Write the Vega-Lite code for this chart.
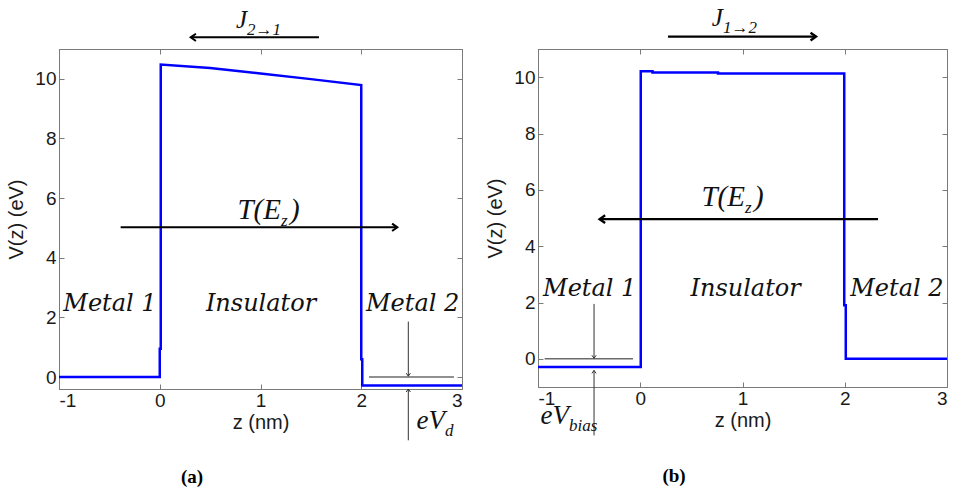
{
  "$schema": "https://vega.github.io/schema/vega-lite/v6.json",
  "background": "white",
  "padding": {"left": 6, "top": 5, "right": 0, "bottom": 0},
  "spacing": 17,
  "config": {
    "view": {"stroke": "#7a7a7a", "strokeWidth": 1},
    "axis": {
      "grid": false,
      "domainColor": "#7a7a7a",
      "tickColor": "#7a7a7a",
      "tickSize": -5,
      "labelFont": "Liberation Sans",
      "labelFontSize": 19,
      "labelColor": "#1a1a1a",
      "labelExpr": "'' + datum.value",
      "titleFont": "Liberation Sans",
      "titleFontSize": 20,
      "titleFontWeight": "normal",
      "titleColor": "#1a1a1a"
    }
  },
  "datasets": {
    "all": [
      {"panel": "a", "type": "curve", "i": 1, "z": -1, "V": 0},
      {"panel": "a", "type": "curve", "i": 2, "z": 0, "V": 0},
      {"panel": "a", "type": "curve", "i": 3, "z": 0, "V": 0.95},
      {"panel": "a", "type": "curve", "i": 4, "z": 0.01, "V": 0.95},
      {"panel": "a", "type": "curve", "i": 5, "z": 0.01, "V": 10.48},
      {"panel": "a", "type": "curve", "i": 6, "z": 0.5, "V": 10.36},
      {"panel": "a", "type": "curve", "i": 7, "z": 1, "V": 10.18},
      {"panel": "a", "type": "curve", "i": 8, "z": 1.5, "V": 9.99},
      {"panel": "a", "type": "curve", "i": 9, "z": 2, "V": 9.79},
      {"panel": "a", "type": "curve", "i": 10, "z": 2, "V": 0.6},
      {"panel": "a", "type": "curve", "i": 11, "z": 2.01, "V": 0.6},
      {"panel": "a", "type": "curve", "i": 12, "z": 2.01, "V": -0.28},
      {"panel": "a", "type": "curve", "i": 13, "z": 3, "V": -0.28},
      {"panel": "b", "type": "curve", "i": 1, "z": -1, "V": -0.29},
      {"panel": "b", "type": "curve", "i": 2, "z": 0.005, "V": -0.29},
      {"panel": "b", "type": "curve", "i": 3, "z": 0.005, "V": 10.21},
      {"panel": "b", "type": "curve", "i": 4, "z": 0.12, "V": 10.21},
      {"panel": "b", "type": "curve", "i": 5, "z": 0.12, "V": 10.17},
      {"panel": "b", "type": "curve", "i": 6, "z": 0.76, "V": 10.17},
      {"panel": "b", "type": "curve", "i": 7, "z": 0.76, "V": 10.13},
      {"panel": "b", "type": "curve", "i": 8, "z": 1.995, "V": 10.13},
      {"panel": "b", "type": "curve", "i": 9, "z": 1.995, "V": 1.9},
      {"panel": "b", "type": "curve", "i": 10, "z": 2.01, "V": 1.9},
      {"panel": "b", "type": "curve", "i": 11, "z": 2.01, "V": 0},
      {"panel": "b", "type": "curve", "i": 12, "z": 3, "V": 0},

      {"panel": "a", "type": "arrow", "kind": "J", "dir": "left", "z": 0.307, "V": 11.39, "z2": 1.58, "V2": 11.39},
      {"panel": "a", "type": "arrow", "kind": "T", "dir": "right", "z": 2.358, "V": 5.02, "z2": -0.388, "V2": 5.02},
      {"panel": "a", "type": "arrow", "kind": "eV", "dir": "down", "z": 2.467, "V": 0.03, "z2": 2.467, "V2": 1.86},
      {"panel": "a", "type": "arrow", "kind": "eV", "dir": "up", "z": 2.467, "V": -0.4, "z2": 2.467, "V2": -2.12},
      {"panel": "b", "type": "arrow", "kind": "J", "dir": "right", "z": 1.719, "V": 11.44, "z2": 0.271, "V2": 11.44},
      {"panel": "b", "type": "arrow", "kind": "T", "dir": "left", "z": -0.397, "V": 4.96, "z2": 2.325, "V2": 4.96},
      {"panel": "b", "type": "arrow", "kind": "eV", "dir": "down", "z": -0.452, "V": 0.02, "z2": -0.452, "V2": 1.95},
      {"panel": "b", "type": "arrow", "kind": "eV", "dir": "up", "z": -0.452, "V": -0.41, "z2": -0.452, "V2": -2.72},

      {"panel": "a", "type": "ref", "z": 2.077, "V": 0, "z2": 2.92, "V2": 0},
      {"panel": "b", "type": "ref", "z": -0.935, "V": 0, "z2": -0.071, "V2": 0},

      {"panel": "a", "type": "region", "text": "Metal 1", "z": -0.494, "V": 2.23},
      {"panel": "a", "type": "region", "text": "Insulator", "z": 1.005, "V": 2.23},
      {"panel": "a", "type": "region", "text": "Metal 2", "z": 2.51, "V": 2.23},
      {"panel": "b", "type": "region", "text": "Metal 1", "z": -0.494, "V": 2.24},
      {"panel": "b", "type": "region", "text": "Insulator", "z": 1.03, "V": 2.24},
      {"panel": "b", "type": "region", "text": "Metal 2", "z": 2.51, "V": 2.24},

      {"panel": "a", "type": "math", "kind": "J", "big": "J", "sub": "2→1", "z": 0.866, "V": 11.7},
      {"panel": "a", "type": "math", "kind": "T", "big": "T(E", "sub": "z", "tail": ")", "z": 1.203, "V": 5.3},
      {"panel": "a", "type": "math", "kind": "eV", "big": "eV", "sub": "d", "z": 2.831, "V": -1.73},
      {"panel": "b", "type": "math", "kind": "J", "big": "J", "sub": "1→2", "z": 0.809, "V": 11.81},
      {"panel": "b", "type": "math", "kind": "T", "big": "T(E", "sub": "z", "tail": ")", "z": 1.024, "V": 5.44},
      {"panel": "b", "type": "math", "kind": "eV", "big": "eV", "sub": "bias", "z": -0.697, "V": -2.3},

      {"panel": "a", "type": "tag", "text": "(a)", "z": 0.32, "V": -3.56},
      {"panel": "b", "type": "tag", "text": "(b)", "z": 0.33, "V": -4.36}
    ]
  },
  "hconcat": [
    {
      "width": 403,
      "height": 340,
      "data": {"name": "all"},
      "transform": [{"filter": "datum.panel === 'a'"}],
      "encoding": {
        "x": {"field": "z", "type": "quantitative", "scale": {"domain": [-1, 3], "nice": false, "zero": false}, "axis": null},
        "y": {"field": "V", "type": "quantitative", "scale": {"domain": [-0.4, 11], "nice": false, "zero": false}, "axis": null}
      },
      "layer": [
        {
          "transform": [{"filter": "datum.type === 'ref'"}],
          "mark": {"type": "rule", "color": "#6b6b6b", "strokeWidth": 1.5},
          "encoding": {
            "x": {"field": "z", "type": "quantitative", "scale": {"domain": [-1, 3], "nice": false, "zero": false}, "axis": {"orient": "top", "labels": false, "title": null, "values": [-1, 0, 1, 2, 3]}},
            "y": {"field": "V", "type": "quantitative", "scale": {"domain": [-0.4, 11], "nice": false, "zero": false}, "axis": {"orient": "right", "labels": false, "title": null, "values": [0, 2, 4, 6, 8, 10]}},
            "x2": {"field": "z2"},
            "y2": {"field": "V2"}
          }
        },
        {
          "transform": [{"filter": "datum.type === 'curve'"}],
          "mark": {"type": "line", "color": "#0000ff", "strokeWidth": 2.5},
          "encoding": {
            "order": {"field": "i", "type": "quantitative"},
            "x": {"field": "z", "type": "quantitative", "scale": {"domain": [-1, 3], "nice": false, "zero": false}, "axis": {"orient": "bottom", "title": "z (nm)", "values": [-1, 0, 1, 2, 3], "labelPadding": 7, "titlePadding": 2}},
            "y": {"field": "V", "type": "quantitative", "scale": {"domain": [-0.4, 11], "nice": false, "zero": false}, "axis": {"orient": "left", "title": "V(z) (eV)", "values": [0, 2, 4, 6, 8, 10], "labelPadding": 8, "titlePadding": 8}}
          }
        },
        {
          "transform": [{"filter": "datum.type === 'arrow' && datum.kind !== 'eV'"}],
          "mark": {"type": "rule", "color": "#000000", "strokeWidth": 2},
          "encoding": {"x2": {"field": "z2"}, "y2": {"field": "V2"}}
        },
        {
          "transform": [{"filter": "datum.type === 'arrow' && datum.kind === 'eV'"}],
          "mark": {"type": "rule", "color": "#333333", "strokeWidth": 1},
          "encoding": {"x2": {"field": "z2"}, "y2": {"field": "V2"}}
        },
        {
          "transform": [{"filter": "datum.type === 'arrow' && datum.kind !== 'eV'"}],
          "mark": {"type": "point", "filled": false, "stroke": "#000000", "strokeWidth": 2, "opacity": 1, "size": 110},
          "encoding": {
            "shape": {"field": "dir", "type": "nominal", "legend": null,
              "scale": {"domain": ["left", "right", "up", "down"], "range": ["M1,-0.7L0,0L1,0.7", "M-1,-0.7L0,0L-1,0.7", "M-0.7,1L0,0L0.7,1", "M-0.7,-1L0,0L0.7,-1"]}}
          }
        },
        {
          "transform": [{"filter": "datum.type === 'arrow' && datum.kind === 'eV'"}],
          "mark": {"type": "point", "filled": false, "stroke": "#333333", "strokeWidth": 1, "opacity": 1, "size": 36},
          "encoding": {
            "shape": {"field": "dir", "type": "nominal", "legend": null,
              "scale": {"domain": ["left", "right", "up", "down"], "range": ["M1,-0.7L0,0L1,0.7", "M-1,-0.7L0,0L-1,0.7", "M-0.7,1L0,0L0.7,1", "M-0.7,-1L0,0L0.7,-1"]}}
          }
        },
        {
          "transform": [{"filter": "datum.type === 'region'"}],
          "mark": {"type": "text", "font": "DejaVu Serif", "fontStyle": "italic", "fontSize": 24, "align": "center", "baseline": "alphabetic", "color": "#111111"},
          "encoding": {"text": {"field": "text"}}
        },
        {
          "transform": [{"filter": "datum.type === 'math' && datum.kind === 'J'"}],
          "mark": {"type": "text", "font": "Liberation Serif", "fontStyle": "italic", "fontSize": 25, "align": "right", "baseline": "alphabetic", "color": "#111111"},
          "encoding": {"text": {"field": "big"}}
        },
        {
          "transform": [{"filter": "datum.type === 'math' && datum.kind === 'T'"}],
          "mark": {"type": "text", "font": "Liberation Serif", "fontStyle": "italic", "fontSize": 29, "align": "right", "baseline": "alphabetic", "color": "#111111"},
          "encoding": {"text": {"field": "big"}}
        },
        {
          "transform": [{"filter": "datum.type === 'math' && datum.kind === 'eV'"}],
          "mark": {"type": "text", "font": "Liberation Serif", "fontStyle": "italic", "fontSize": 27, "align": "right", "baseline": "alphabetic", "color": "#111111"},
          "encoding": {"text": {"field": "big"}}
        },
        {
          "transform": [{"filter": "datum.type === 'math'"}],
          "mark": {"type": "text", "font": "Liberation Serif", "fontStyle": "italic", "fontSize": 17, "align": "left", "baseline": "alphabetic", "dy": 7, "dx": 0, "color": "#111111"},
          "encoding": {"text": {"field": "sub"}}
        },
        {
          "transform": [{"filter": "datum.type === 'math' && datum.tail"}],
          "mark": {"type": "text", "font": "Liberation Serif", "fontStyle": "italic", "fontSize": 29, "align": "left", "baseline": "alphabetic", "dx": 9, "color": "#111111"},
          "encoding": {"text": {"field": "tail"}}
        },
        {
          "transform": [{"filter": "datum.type === 'tag'"}],
          "mark": {"type": "text", "font": "Liberation Serif", "fontWeight": "bold", "fontSize": 19, "align": "center", "baseline": "alphabetic", "color": "#000000"},
          "encoding": {"text": {"field": "text"}}
        }
      ],
      "resolve": {"axis": {"x": "independent", "y": "independent"}}
    },
    {
      "width": 409,
      "height": 338,
      "data": {"name": "all"},
      "transform": [{"filter": "datum.panel === 'b'"}],
      "encoding": {
        "x": {"field": "z", "type": "quantitative", "scale": {"domain": [-1, 3], "nice": false, "zero": false}, "axis": null},
        "y": {"field": "V", "type": "quantitative", "scale": {"domain": [-1, 11], "nice": false, "zero": false}, "axis": null}
      },
      "layer": [
        {
          "transform": [{"filter": "datum.type === 'ref'"}],
          "mark": {"type": "rule", "color": "#6b6b6b", "strokeWidth": 1.5},
          "encoding": {
            "x": {"field": "z", "type": "quantitative", "scale": {"domain": [-1, 3], "nice": false, "zero": false}, "axis": {"orient": "top", "labels": false, "title": null, "values": [-1, 0, 1, 2, 3]}},
            "y": {"field": "V", "type": "quantitative", "scale": {"domain": [-1, 11], "nice": false, "zero": false}, "axis": {"orient": "right", "labels": false, "title": null, "values": [0, 2, 4, 6, 8, 10]}},
            "x2": {"field": "z2"},
            "y2": {"field": "V2"}
          }
        },
        {
          "transform": [{"filter": "datum.type === 'curve'"}],
          "mark": {"type": "line", "color": "#0000ff", "strokeWidth": 2.5},
          "encoding": {
            "order": {"field": "i", "type": "quantitative"},
            "x": {"field": "z", "type": "quantitative", "scale": {"domain": [-1, 3], "nice": false, "zero": false}, "axis": {"orient": "bottom", "title": "z (nm)", "values": [-1, 0, 1, 2, 3], "labelPadding": 7, "titlePadding": 2}},
            "y": {"field": "V", "type": "quantitative", "scale": {"domain": [-1, 11], "nice": false, "zero": false}, "axis": {"orient": "left", "title": "V(z) (eV)", "values": [0, 2, 4, 6, 8, 10], "labelPadding": 8, "titlePadding": 8}}
          }
        },
        {
          "transform": [{"filter": "datum.type === 'arrow' && datum.kind !== 'eV'"}],
          "mark": {"type": "rule", "color": "#000000", "strokeWidth": 2.4},
          "encoding": {"x2": {"field": "z2"}, "y2": {"field": "V2"}}
        },
        {
          "transform": [{"filter": "datum.type === 'arrow' && datum.kind === 'eV'"}],
          "mark": {"type": "rule", "color": "#333333", "strokeWidth": 1},
          "encoding": {"x2": {"field": "z2"}, "y2": {"field": "V2"}}
        },
        {
          "transform": [{"filter": "datum.type === 'arrow' && datum.kind !== 'eV'"}],
          "mark": {"type": "point", "filled": false, "stroke": "#000000", "strokeWidth": 2.4, "opacity": 1, "size": 120},
          "encoding": {
            "shape": {"field": "dir", "type": "nominal", "legend": null,
              "scale": {"domain": ["left", "right", "up", "down"], "range": ["M1,-0.7L0,0L1,0.7", "M-1,-0.7L0,0L-1,0.7", "M-0.7,1L0,0L0.7,1", "M-0.7,-1L0,0L0.7,-1"]}}
          }
        },
        {
          "transform": [{"filter": "datum.type === 'arrow' && datum.kind === 'eV'"}],
          "mark": {"type": "point", "filled": false, "stroke": "#333333", "strokeWidth": 1, "opacity": 1, "size": 36},
          "encoding": {
            "shape": {"field": "dir", "type": "nominal", "legend": null,
              "scale": {"domain": ["left", "right", "up", "down"], "range": ["M1,-0.7L0,0L1,0.7", "M-1,-0.7L0,0L-1,0.7", "M-0.7,1L0,0L0.7,1", "M-0.7,-1L0,0L0.7,-1"]}}
          }
        },
        {
          "transform": [{"filter": "datum.type === 'region'"}],
          "mark": {"type": "text", "font": "DejaVu Serif", "fontStyle": "italic", "fontSize": 24, "align": "center", "baseline": "alphabetic", "color": "#111111"},
          "encoding": {"text": {"field": "text"}}
        },
        {
          "transform": [{"filter": "datum.type === 'math' && datum.kind === 'J'"}],
          "mark": {"type": "text", "font": "Liberation Serif", "fontStyle": "italic", "fontSize": 25, "align": "right", "baseline": "alphabetic", "color": "#111111"},
          "encoding": {"text": {"field": "big"}}
        },
        {
          "transform": [{"filter": "datum.type === 'math' && datum.kind === 'T'"}],
          "mark": {"type": "text", "font": "Liberation Serif", "fontStyle": "italic", "fontSize": 29, "align": "right", "baseline": "alphabetic", "color": "#111111"},
          "encoding": {"text": {"field": "big"}}
        },
        {
          "transform": [{"filter": "datum.type === 'math' && datum.kind === 'eV'"}],
          "mark": {"type": "text", "font": "Liberation Serif", "fontStyle": "italic", "fontSize": 27, "align": "right", "baseline": "alphabetic", "color": "#111111"},
          "encoding": {"text": {"field": "big"}}
        },
        {
          "transform": [{"filter": "datum.type === 'math'"}],
          "mark": {"type": "text", "font": "Liberation Serif", "fontStyle": "italic", "fontSize": 17, "align": "left", "baseline": "alphabetic", "dy": 7, "dx": 0, "color": "#111111"},
          "encoding": {"text": {"field": "sub"}}
        },
        {
          "transform": [{"filter": "datum.type === 'math' && datum.tail"}],
          "mark": {"type": "text", "font": "Liberation Serif", "fontStyle": "italic", "fontSize": 29, "align": "left", "baseline": "alphabetic", "dx": 9, "color": "#111111"},
          "encoding": {"text": {"field": "tail"}}
        },
        {
          "transform": [{"filter": "datum.type === 'tag'"}],
          "mark": {"type": "text", "font": "Liberation Serif", "fontWeight": "bold", "fontSize": 19, "align": "center", "baseline": "alphabetic", "color": "#000000"},
          "encoding": {"text": {"field": "text"}}
        }
      ],
      "resolve": {"axis": {"x": "independent", "y": "independent"}}
    }
  ]
}
